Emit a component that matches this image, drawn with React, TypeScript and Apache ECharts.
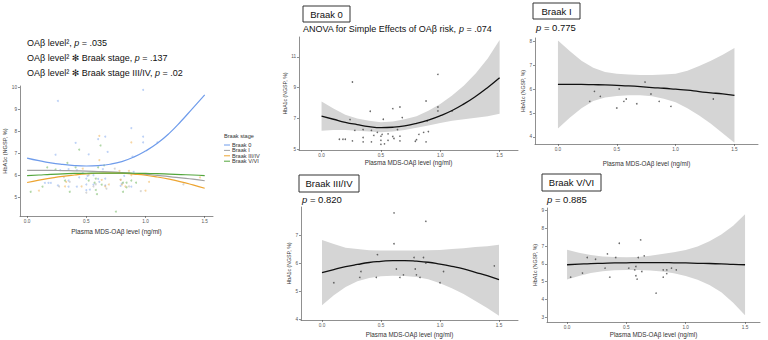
import React, { useEffect, useRef } from 'react';
import * as echarts from 'echarts';

const FONT = 'Liberation Sans, Arial, DejaVu Sans, sans-serif';

// shared x positions of the fitted curves / confidence bands
const X_GRID = [0, 0.1, 0.2, 0.3, 0.4, 0.5, 0.6, 0.7, 0.8, 0.9, 1.0, 1.1, 1.2, 1.3, 1.4, 1.5];
const X_TICKS = [0, 0.5, 1, 1.5];

// Panel A (pooled model) fitted curves per Braak stage
const A_FIT_B0 = [6.78, 6.66, 6.56, 6.49, 6.44, 6.42, 6.44, 6.5, 6.62, 6.82, 7.1, 7.45, 7.9, 8.45, 9.05, 9.65];
const A_FIT_B1 = [6.22, 6.22, 6.22, 6.21, 6.2, 6.19, 6.17, 6.15, 6.12, 6.08, 6.04, 5.99, 5.94, 5.88, 5.82, 5.75];
const A_FIT_B34 = [5.67, 5.78, 5.87, 5.95, 6.01, 6.06, 6.09, 6.1, 6.09, 6.05, 6.0, 5.92, 5.82, 5.7, 5.56, 5.41];
const A_FIT_B56 = [5.98, 6.01, 6.04, 6.06, 6.08, 6.09, 6.1, 6.1, 6.1, 6.09, 6.08, 6.07, 6.05, 6.03, 6.01, 5.98];

// Braak 0 panel
const B0_LOW = [6.2, 6.25, 6.25, 6.2, 6.15, 6.1, 6.15, 6.25, 6.4, 6.55, 6.7, 6.85, 6.95, 7.05, 7.15, 7.3];
const B0_FIT = [7.15, 6.95, 6.75, 6.6, 6.47, 6.4, 6.43, 6.52, 6.68, 6.9, 7.18, 7.52, 7.95, 8.45, 9.02, 9.65];
const B0_HIGH = [8.1, 7.65, 7.25, 7.0, 6.85, 6.75, 6.8, 6.95, 7.15, 7.5, 7.95, 8.5, 9.15, 9.95, 10.9, 12.1];
const B0_POINTS: [number, number][] = [
  [0.26, 9.37], [0.98, 9.87], [0.88, 8.14], [0.98, 7.75], [0.66, 7.75], [0.6, 7.64], [0.41, 7.47],
  [0.68, 7.06], [1.1, 7.49], [0.98, 7.49], [0.52, 6.95], [0.24, 6.93], [0.89, 6.84], [0.28, 6.23],
  [0.35, 6.28], [0.42, 6.23], [0.47, 6.1], [0.64, 6.28], [0.86, 6.1], [0.9, 6.15], [0.82, 5.97],
  [0.56, 6.0], [0.51, 5.97], [0.44, 5.9], [0.5, 5.85], [0.6, 5.83], [0.66, 5.85], [0.35, 5.76],
  [0.15, 5.65], [0.18, 5.65], [0.2, 5.65], [0.26, 5.54], [0.35, 5.48], [0.42, 5.48], [0.5, 5.58],
  [0.56, 5.58], [0.5, 5.32], [0.53, 5.35], [0.66, 5.54], [0.8, 5.62], [0.79, 5.52], [0.88, 5.48],
  [0.61, 5.7],
];

// Braak I panel
const B1_LOW = [4.35, 4.8, 5.2, 5.5, 5.65, 5.72, 5.75, 5.75, 5.7, 5.6, 5.45, 5.2, 4.9, 4.55, 4.15, 3.75];
const B1_FIT = [6.2, 6.2, 6.2, 6.19, 6.18, 6.16, 6.14, 6.11, 6.07, 6.04, 6.0, 5.96, 5.9, 5.85, 5.8, 5.74];
const B1_HIGH = [8.05, 7.6, 7.2, 6.9, 6.72, 6.65, 6.62, 6.6, 6.6, 6.62, 6.65, 6.78, 6.97, 7.2, 7.45, 7.73];
const B1_POINTS: [number, number][] = [
  [0.27, 5.49], [0.31, 5.91], [0.36, 5.7], [0.5, 5.21], [0.52, 6.01], [0.56, 5.49], [0.58, 5.59],
  [0.67, 5.39], [0.74, 6.3], [0.79, 5.8], [0.86, 5.49], [0.96, 5.28], [1.32, 5.59],
];

// Braak III/IV panel
const B34_LOW = [4.5, 4.85, 5.15, 5.35, 5.47, 5.53, 5.55, 5.54, 5.5, 5.42, 5.28, 5.1, 4.9, 4.65, 4.4, 4.12];
const B34_FIT = [5.66, 5.77, 5.87, 5.95, 6.02, 6.06, 6.09, 6.09, 6.07, 6.03, 5.96, 5.88, 5.79, 5.67, 5.55, 5.41];
const B34_HIGH = [6.82, 6.68, 6.55, 6.5, 6.46, 6.45, 6.45, 6.45, 6.45, 6.46, 6.47, 6.5, 6.53, 6.57, 6.6, 6.65];
const B34_POINTS: [number, number][] = [
  [0.61, 7.79], [0.88, 7.49], [0.61, 6.69], [0.47, 6.3], [0.78, 6.2], [0.86, 6.2], [0.88, 6.0],
  [0.63, 5.79], [0.79, 5.79], [0.33, 5.7], [1.03, 5.7], [0.69, 5.58], [0.8, 5.58], [0.32, 5.49],
  [0.46, 5.49], [0.66, 5.49], [0.83, 5.49], [0.1, 5.3], [1.0, 5.3], [1.46, 5.9],
];

// Braak V/VI panel
const B56_LOW = [5.12, 5.32, 5.48, 5.58, 5.64, 5.66, 5.66, 5.63, 5.57, 5.47, 5.32, 5.1, 4.8, 4.4, 3.8, 3.1];
const B56_FIT = [5.95, 5.98, 6.01, 6.03, 6.05, 6.06, 6.07, 6.07, 6.07, 6.06, 6.05, 6.03, 6.02, 6.0, 5.97, 5.95];
const B56_HIGH = [6.8, 6.62, 6.5, 6.42, 6.38, 6.37, 6.39, 6.45, 6.55, 6.65, 6.78, 6.98, 7.27, 7.65, 8.15, 8.8];
const B56_POINTS: [number, number][] = [
  [0.44, 7.16], [0.62, 7.35], [0.34, 6.56], [0.65, 6.45], [0.17, 6.36], [0.24, 6.26], [0.41, 6.36],
  [0.6, 6.36], [0.03, 5.25], [0.13, 5.48], [0.32, 5.76], [0.36, 5.25], [0.52, 5.76], [0.57, 5.66],
  [0.58, 5.85], [0.63, 5.57], [0.58, 5.33], [0.59, 5.14], [0.81, 5.66], [0.84, 5.66], [0.92, 5.66],
  [0.88, 5.76], [0.81, 5.25], [0.84, 5.45], [0.75, 4.35],
];

const STAGES = ['Braak 0', 'Braak I', 'Braak III/IV', 'Braak V/VI'];
const STAGE_COLORS = ['#6f9ceb', '#a3a3a3', '#eda532', '#53a63c'];

const X_NAME = 'Plasma MDS-OAβ level (ng/ml)';
const Y_NAME = 'HbA1c (NGSP, %)';

function xAxis(gridIndex: number, min: number, max: number, nameGap: number, nameSize: number) {
  return {
    type: 'value', gridIndex, min, max,
    name: X_NAME, nameLocation: 'middle', nameGap,
    nameTextStyle: { fontSize: nameSize, color: '#333', fontFamily: FONT },
    axisLine: { show: true, onZero: false, lineStyle: { color: '#444', width: 0.6 } },
    axisTick: { show: true, length: 2, lineStyle: { color: '#444', width: 0.6 }, customValues: X_TICKS },
    axisLabel: { fontSize: 4.7, color: '#555', margin: 3, fontFamily: FONT, customValues: X_TICKS, formatter: (v: number) => v.toFixed(1) },
    splitLine: { show: false },
  };
}

function yAxis(gridIndex: number, min: number, max: number, ticks: number[], nameGap: number, nameSize: number) {
  return {
    type: 'value', gridIndex, min, max,
    name: Y_NAME, nameLocation: 'middle', nameGap,
    nameTextStyle: { fontSize: nameSize, color: '#333', fontFamily: FONT },
    axisLine: { show: true, onZero: false, lineStyle: { color: '#444', width: 0.6 } },
    axisTick: { show: true, length: 2, lineStyle: { color: '#444', width: 0.6 }, customValues: ticks },
    axisLabel: { fontSize: 4.7, color: '#555', margin: 3, fontFamily: FONT, customValues: ticks, formatter: (v: number) => String(v) },
    splitLine: { show: false },
  };
}

function band(idx: number, low: number[], high: number[]) {
  return {
    type: 'custom', xAxisIndex: idx, yAxisIndex: idx, silent: true, z: 1,
    data: X_GRID.map((x, i) => [x, low[i], high[i]]),
    encode: { x: 0, y: [1, 2] },
    renderItem: (params: any, api: any) => {
      if (params.dataIndex !== 0) return { type: 'group', children: [] };
      const pts: number[][] = [];
      for (let i = 0; i < X_GRID.length; i++) pts.push(api.coord([X_GRID[i], high[i]]));
      for (let i = X_GRID.length - 1; i >= 0; i--) pts.push(api.coord([X_GRID[i], low[i]]));
      return { type: 'polygon', shape: { points: pts }, style: { fill: '#d5d5d5', stroke: null } };
    },
  };
}

function fitLine(idx: number, fit: number[], color: string, width: number, name?: string) {
  return {
    type: 'line', name, xAxisIndex: idx, yAxisIndex: idx, z: 4,
    data: X_GRID.map((x, i) => [x, fit[i]]),
    smooth: true, showSymbol: false, symbol: 'none',
    lineStyle: { color, width },
  };
}

function points(idx: number, pts: [number, number][], color: string, size: number, opacity: number) {
  return {
    type: 'scatter', xAxisIndex: idx, yAxisIndex: idx, z: 3, silent: true,
    data: pts, symbolSize: size,
    itemStyle: { color, opacity },
  };
}

function richText(x: number, y: number, text: string, size: number) {
  return {
    type: 'text', x, y,
    style: {
      text, fill: '#111', fontSize: size, fontFamily: FONT, verticalAlign: 'middle', align: 'left',
      rich: {
        n: { fontSize: size, fontFamily: FONT, fill: '#111' },
        i: { fontSize: size, fontFamily: FONT, fontStyle: 'italic', fill: '#111' },
      },
    },
  };
}

function boxLabel(x: number, y: number, w: number, h: number, text: string) {
  return [
    { type: 'rect', shape: { x, y, width: w, height: h }, style: { fill: '#fff', stroke: '#333', lineWidth: 1 } },
    { type: 'text', x: x + w / 2, y: y + h / 2, style: { text, fill: '#111', fontSize: 9.5, fontFamily: FONT, align: 'center', verticalAlign: 'middle' } },
  ];
}

export default function App() {
  const ref = useRef<HTMLDivElement>(null);
  useEffect(() => {
    if (!ref.current) return;
    const chart = echarts.init(ref.current, null, { renderer: 'svg' });
    const aFits = [A_FIT_B0, A_FIT_B1, A_FIT_B34, A_FIT_B56];
    const allPts = [B0_POINTS, B1_POINTS, B34_POINTS, B56_POINTS];
    const legendY = [145, 150.4, 155.8, 161.2];
    const legendEls: any[] = [
      { type: 'text', x: 224, y: 136, style: { text: 'Braak stage', fill: '#333', fontSize: 5.6, fontFamily: FONT, verticalAlign: 'middle' } },
    ];
    STAGES.forEach((s, i) => {
      legendEls.push({ type: 'line', shape: { x1: 224, y1: legendY[i], x2: 230, y2: legendY[i] }, style: { stroke: STAGE_COLORS[i], lineWidth: 1 } });
      legendEls.push({ type: 'text', x: 232, y: legendY[i], style: { text: s, fill: '#333', fontSize: 5.6, fontFamily: FONT, verticalAlign: 'middle' } });
    });

    const option: any = {
      animation: false,
      backgroundColor: '#ffffff',
      grid: [
        { left: 20, top: 86, width: 193, height: 130 },
        { left: 299, top: 37, width: 219, height: 113 },
        { left: 535, top: 38, width: 223, height: 106 },
        { left: 301, top: 207, width: 217, height: 113 },
        { left: 547, top: 208, width: 213, height: 114 },
      ],
      xAxis: [
        xAxis(0, -0.06, 1.57, 12, 6.5),
        xAxis(1, -0.19, 1.655, 9, 6.3),
        xAxis(2, -0.195, 1.7, 16, 6.3),
        xAxis(3, -0.178, 1.661, 11, 6.3),
        xAxis(4, -0.169, 1.626, 9.5, 6.3),
      ],
      yAxis: [
        yAxis(0, 4.15, 10.05, [5, 6, 7, 8, 9, 10], 9, 5.6),
        yAxis(1, 4.95, 12.3, [5, 7, 9, 11], 8.5, 5.2),
        yAxis(2, 3.7, 8.15, [4, 5, 6, 7, 8], 7.5, 5.2),
        yAxis(3, 3.97, 8.0, [4, 5, 6, 7], 8.5, 5.2),
        yAxis(4, 2.72, 9.15, [3, 4, 5, 6, 7, 8, 9], 8.5, 5.2),
      ],
      series: [
        ...allPts.map((p, i) => points(0, p, STAGE_COLORS[i], 2, 0.45)),
        ...aFits.map((f, i) => fitLine(0, f, STAGE_COLORS[i], 1.2, STAGES[i])),
        band(1, B0_LOW, B0_HIGH), points(1, B0_POINTS, '#444', 1.6, 0.8), fitLine(1, B0_FIT, '#111', 1.3),
        band(2, B1_LOW, B1_HIGH), points(2, B1_POINTS, '#444', 1.6, 0.8), fitLine(2, B1_FIT, '#111', 1.3),
        band(3, B34_LOW, B34_HIGH), points(3, B34_POINTS, '#444', 1.6, 0.8), fitLine(3, B34_FIT, '#111', 1.3),
        band(4, B56_LOW, B56_HIGH), points(4, B56_POINTS, '#444', 1.6, 0.8), fitLine(4, B56_FIT, '#111', 1.3),
      ],
      graphic: [
        richText(27, 43, '{n|OAβ level², }{i|p}{n| = .035}', 9),
        richText(27, 57.5, '{n|OAβ level² ✻ Braak stage, }{i|p}{n| = .137}', 9),
        richText(27, 73, '{n|OAβ level² ✻ Braak stage III/IV, }{i|p}{n| = .02}', 9),
        ...legendEls,
        ...boxLabel(303, 6, 47, 16, 'Braak 0'),
        ...boxLabel(533, 3, 47, 16, 'Braak I'),
        ...boxLabel(299, 175, 60, 17, 'Braak III/IV'),
        ...boxLabel(542, 174, 59, 17, 'Braak V/VI'),
        richText(303, 28.5, '{n|ANOVA for Simple Effects of OAβ risk, }{i|p}{n| = .074}', 9),
        richText(536, 27, '{i|p}{n| = 0.775}', 9.5),
        richText(302, 199, '{i|p}{n| = 0.820}', 9.5),
        richText(547, 199, '{i|p}{n| = 0.885}', 9.5),
      ],
    };
    chart.setOption(option);
    return () => chart.dispose();
  }, []);
  return <div ref={ref} style={{ position: 'absolute', left: 0, top: 0, width: 768, height: 340 }} />;
}
